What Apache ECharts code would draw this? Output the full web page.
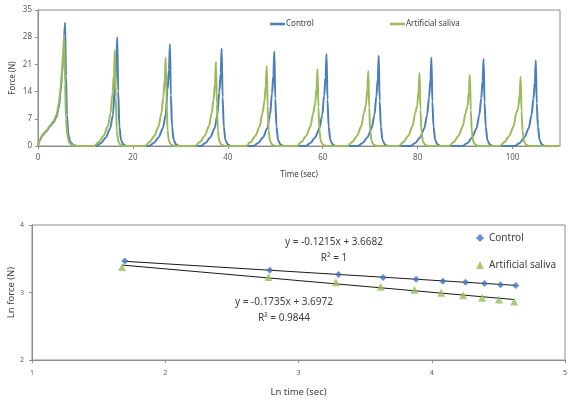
<!DOCTYPE html>
<html>
<head>
<meta charset="utf-8">
<script src="https://cdn.jsdelivr.net/npm/echarts@6/dist/echarts.min.js"></script>
<style>
html,body{margin:0;padding:0;background:#fff;}
#chart{width:580px;height:402px;}
</style>
</head>
<body>
<div id="chart"></div>
<script>
// ---------- Top panel: force vs time ----------
const timeTicks = [0, 20, 40, 60, 80, 100];
const forceTicks = [0, 7, 14, 21, 28, 35];

const controlForce = [
  [0,0],[0.4,1.5],[1,2.8],[1.8,3.8],[2.5,5],[3.2,6],[3.9,7.5],[4.4,10],[4.8,14.4],[5.1,19],[5.4,25],[5.7,31.8],[5.9,18],[6.1,8],[6.4,3],[6.8,1],[7.5,0.2],[8.5,0],
  [12.3,0],[13.3,0.8],[14.3,2.2],[15.2,4.5],[15.8,8],[16.2,15.4],[16.5,21],[16.7,28.0],[16.9,14],[17.15,5],[17.5,1.5],[18,0.4],[18.7,0],
  [23.4,0],[24.4,0.8],[25.4,2.2],[26.3,4.5],[26.9,8],[27.3,14.4],[27.6,19.7],[27.8,26.2],[28,13.1],[28.25,5],[28.6,1.5],[29.1,0.4],[29.8,0],
  [34.3,0],[35.3,0.8],[36.3,2.2],[37.2,4.5],[37.8,8],[38.2,13.8],[38.5,18.8],[38.7,25.1],[38.9,12.6],[39.15,5],[39.5,1.5],[40,0.4],[40.7,0],
  [45.4,0],[46.4,0.8],[47.4,2.2],[48.3,4.5],[48.9,8],[49.3,13.4],[49.6,18.2],[49.8,24.3],[50,12.2],[50.25,5],[50.6,1.5],[51.1,0.4],[51.8,0],
  [56.4,0],[57.4,0.8],[58.4,2.2],[59.3,4.5],[59.9,8],[60.3,13.0],[60.6,17.8],[60.8,23.7],[61,11.9],[61.25,5],[61.6,1.5],[62.1,0.4],[62.8,0],
  [67.4,0],[68.4,0.8],[69.4,2.2],[70.3,4.5],[70.9,8],[71.3,12.8],[71.6,17.4],[71.8,23.2],[72,11.6],[72.25,5],[72.6,1.5],[73.1,0.4],[73.8,0],
  [78.5,0],[79.5,0.8],[80.5,2.2],[81.4,4.5],[82,8],[82.4,12.5],[82.7,17.1],[82.9,22.8],[83.1,11.4],[83.35,5],[83.7,1.5],[84.2,0.4],[84.9,0],
  [89.5,0],[90.5,0.8],[91.5,2.2],[92.4,4.5],[93,8],[93.4,12.3],[93.7,16.8],[93.9,22.4],[94.1,11.2],[94.35,5],[94.7,1.5],[95.2,0.4],[95.9,0],
  [100.5,0],[101.5,0.8],[102.5,2.2],[103.4,4.5],[104,8],[104.4,12.1],[104.7,16.5],[104.9,22.0],[105.1,11.0],[105.35,5],[105.7,1.5],[106.2,0.4],[106.9,0],[110,0]
];

const salivaForce = [
  [0,0],[0.4,1.6],[1,3],[1.8,4],[2.5,5.2],[3.2,6.3],[3.9,8],[4.4,11],[4.8,15.5],[5.1,20],[5.3,24],[5.5,28.6],[5.7,16],[5.9,7],[6.2,2.5],[6.6,0.8],[7.3,0.2],[8.2,0],
  [11.8,0],[12.8,1],[13.8,2.6],[14.7,5],[15.3,8.5],[15.7,13.6],[16,18.5],[16.2,24.7],[16.4,12.4],[16.6,4],[16.9,1.2],[17.4,0.3],[18,0],
  [22.5,0],[23.5,1],[24.5,2.6],[25.4,5],[26,8.5],[26.4,12.5],[26.7,17.1],[26.9,22.8],[27.1,11.4],[27.3,4],[27.6,1.2],[28.1,0.3],[28.7,0],
  [33.1,0],[34.1,1],[35.1,2.6],[36,5],[36.6,8.5],[37,11.9],[37.3,16.2],[37.5,21.6],[37.7,10.8],[37.9,4],[38.2,1.2],[38.7,0.3],[39.3,0],
  [43.8,0],[44.8,1],[45.8,2.6],[46.7,5],[47.3,8.5],[47.7,11.3],[48,15.5],[48.2,20.6],[48.4,10.3],[48.6,4],[48.9,1.2],[49.4,0.3],[50,0],
  [54.5,0],[55.5,1],[56.5,2.6],[57.4,5],[58,8.5],[58.4,10.9],[58.7,14.9],[58.9,19.8],[59.1,9.9],[59.3,4],[59.6,1.2],[60.1,0.3],[60.7,0],
  [65.2,0],[66.2,1],[67.2,2.6],[68.1,5],[68.7,8.5],[69.1,10.6],[69.4,14.5],[69.6,19.3],[69.8,9.7],[70,4],[70.3,1.2],[70.8,0.3],[71.4,0],
  [76,0],[77,1],[78,2.6],[78.9,5],[79.5,8.5],[79.9,10.3],[80.2,14.1],[80.4,18.8],[80.6,9.4],[80.8,4],[81.1,1.2],[81.6,0.3],[82.2,0],
  [86.6,0],[87.6,1],[88.6,2.6],[89.5,5],[90.1,8.5],[90.5,10.1],[90.8,13.7],[91.0,18.3],[91.2,9.2],[91.4,4],[91.7,1.2],[92.2,0.3],[92.8,0],
  [97.3,0],[98.3,1],[99.3,2.6],[100.2,5],[100.8,8.5],[101.2,9.8],[101.5,13.4],[101.7,17.8],[101.9,8.9],[102.1,4],[102.4,1.2],[102.9,0.3],[103.5,0],[110,0]
];

// ---------- Bottom panel: ln force vs ln time ----------
const lnTimeControl = [1.696, 2.785, 3.300, 3.635, 3.883, 4.083, 4.254, 4.396, 4.516, 4.631];
const lnForceControl = [3.465, 3.331, 3.267, 3.223, 3.198, 3.168, 3.153, 3.134, 3.114, 3.104];
const lnTimeSaliva = [1.676, 2.775, 3.280, 3.616, 3.871, 4.071, 4.236, 4.378, 4.504, 4.619];
const lnForceSaliva = [3.376, 3.228, 3.153, 3.084, 3.040, 2.995, 2.960, 2.921, 2.896, 2.866];
const trendControl = { slope: -0.1215, intercept: 3.6682, r2: '1' };
const trendSaliva = { slope: -0.1735, intercept: 3.6972, r2: '0.9844' };
const lnTimeTicks = [1, 2, 3, 4, 5];
const lnForceTicks = [2, 3, 4];

const BLUE = '#4a7ebb';
const GREEN = '#9bbb59';
const AXIS = '#8c8c8c';
const FONT = '"Noto Sans", "DejaVu Sans", sans-serif';

function pairs(xs, ys) { return xs.map((x, i) => [x, ys[i]]); }
function trendLine(xs, t) {
  const x0 = Math.min(...xs), x1 = Math.max(...xs);
  return [[x0, t.slope * x0 + t.intercept], [x1, t.slope * x1 + t.intercept]];
}
function eqText(t) {
  return 'y = ' + t.slope.toFixed(4) + 'x + ' + t.intercept.toFixed(4);
}

const chart = echarts.init(document.getElementById('chart'), null, { renderer: 'canvas' });

const axisCommon = {
  axisLine: { show: true, lineStyle: { color: AXIS, width: 1 } },
  axisTick: { show: true, length: 3, lineStyle: { color: AXIS } },
  splitLine: { show: false },
  axisLabel: { color: '#595959', fontSize: 8, fontFamily: FONT },
  nameTextStyle: { color: '#404040', fontSize: 8, fontFamily: FONT },
  nameMoveOverlap: false
};

const eqStyle = { fill: '#404040', fontSize: 10, fontFamily: FONT, align: 'center', verticalAlign: 'middle' };

chart.setOption({
  animation: false,
  backgroundColor: '#fff',
  grid: [
    { left: 38, right: 20, top: 10, bottom: 256, show: true, borderColor: AXIS, borderWidth: 1, containLabel: false, outerBoundsMode: 'none' },
    { left: 32, right: 15, top: 225, bottom: 42, show: true, borderColor: AXIS, borderWidth: 1, containLabel: false, outerBoundsMode: 'none' }
  ],
  xAxis: [
    Object.assign({}, axisCommon, {
      type: 'value', gridIndex: 0, min: timeTicks[0], max: 110, interval: timeTicks[1] - timeTicks[0],
      name: 'Time (sec)', nameLocation: 'middle', nameGap: 25,
      axisLabel: Object.assign({}, axisCommon.axisLabel, { showMaxLabel: false, margin: 8 })
    }),
    Object.assign({}, axisCommon, {
      type: 'value', gridIndex: 1, min: lnTimeTicks[0], max: lnTimeTicks[lnTimeTicks.length - 1], interval: 1,
      name: 'Ln time (sec)', nameLocation: 'middle', nameGap: 27,
      nameTextStyle: { color: '#404040', fontSize: 9.5, fontFamily: FONT },
      axisLabel: Object.assign({}, axisCommon.axisLabel, { margin: 9, fontSize: 7 })
    })
  ],
  yAxis: [
    Object.assign({}, axisCommon, {
      type: 'value', gridIndex: 0, min: forceTicks[0], max: forceTicks[forceTicks.length - 1], interval: 7,
      name: 'Force (N)', nameLocation: 'middle', nameGap: 21, nameRotate: 90,
      axisLabel: Object.assign({}, axisCommon.axisLabel, { margin: 6 })
    }),
    Object.assign({}, axisCommon, {
      type: 'value', gridIndex: 1, min: lnForceTicks[0], max: lnForceTicks[lnForceTicks.length - 1], interval: 1,
      name: 'Ln force (N)', nameLocation: 'middle', nameGap: 16, nameRotate: 90,
      nameTextStyle: { color: '#404040', fontSize: 9.5, fontFamily: FONT },
      axisLabel: Object.assign({}, axisCommon.axisLabel, { margin: 8, fontSize: 7 })
    })
  ],
  legend: [
    {
      data: ['Control'], left: 265, top: 15, icon: 'rect', itemWidth: 15, itemHeight: 2.5,
      textStyle: { fontSize: 8, color: '#404040', fontFamily: FONT, padding: [0, 0, 0, -4] }
    },
    {
      data: ['Artificial saliva'], left: 385, top: 15, icon: 'rect', itemWidth: 15, itemHeight: 2.5,
      textStyle: { fontSize: 8, color: '#404040', fontFamily: FONT, padding: [0, 0, 0, -4] }
    },
    {
      data: ['Control ', 'Artificial saliva '], orient: 'vertical', left: 471, top: 228,
      itemWidth: 8, itemHeight: 8, itemGap: 17,
      formatter: n => n.trim(),
      textStyle: { fontSize: 10, color: '#404040', fontFamily: FONT }
    }
  ],
  graphic: [
    { type: 'text', x: 334, y: 242, style: Object.assign({ text: eqText(trendControl) }, eqStyle) },
    { type: 'text', x: 334, y: 258, style: Object.assign({ text: 'R² = ' + trendControl.r2 }, eqStyle) },
    { type: 'text', x: 284, y: 302, style: Object.assign({ text: eqText(trendSaliva) }, eqStyle) },
    { type: 'text', x: 284, y: 318, style: Object.assign({ text: 'R² = ' + trendSaliva.r2 }, eqStyle) }
  ],
  series: [
    {
      name: 'Control', type: 'line', xAxisIndex: 0, yAxisIndex: 0, data: controlForce,
      showSymbol: false, symbol: 'none', smooth: 0.3, smoothMonotone: 'x',
      lineStyle: { color: BLUE, width: 2 }, itemStyle: { color: BLUE }
    },
    {
      name: 'Artificial saliva', type: 'line', xAxisIndex: 0, yAxisIndex: 0, data: salivaForce,
      showSymbol: false, symbol: 'none', smooth: 0.3, smoothMonotone: 'x',
      lineStyle: { color: GREEN, width: 2 }, itemStyle: { color: GREEN }
    },
    {
      name: 'trendC', type: 'line', xAxisIndex: 1, yAxisIndex: 1, data: trendLine(lnTimeControl, trendControl),
      symbol: 'none', lineStyle: { color: '#1a1a1a', width: 1 }, z: 1
    },
    {
      name: 'trendS', type: 'line', xAxisIndex: 1, yAxisIndex: 1, data: trendLine(lnTimeSaliva, trendSaliva),
      symbol: 'none', lineStyle: { color: '#1a1a1a', width: 1 }, z: 1
    },
    {
      name: 'Control ', type: 'scatter', xAxisIndex: 1, yAxisIndex: 1, data: pairs(lnTimeControl, lnForceControl),
      symbol: 'diamond', symbolSize: 7, itemStyle: { color: '#4472c4' }, z: 3
    },
    {
      name: 'Artificial saliva ', type: 'scatter', xAxisIndex: 1, yAxisIndex: 1, data: pairs(lnTimeSaliva, lnForceSaliva),
      symbol: 'triangle', symbolSize: 8, itemStyle: { color: GREEN }, z: 3
    }
  ]
});
</script>
</body>
</html>
